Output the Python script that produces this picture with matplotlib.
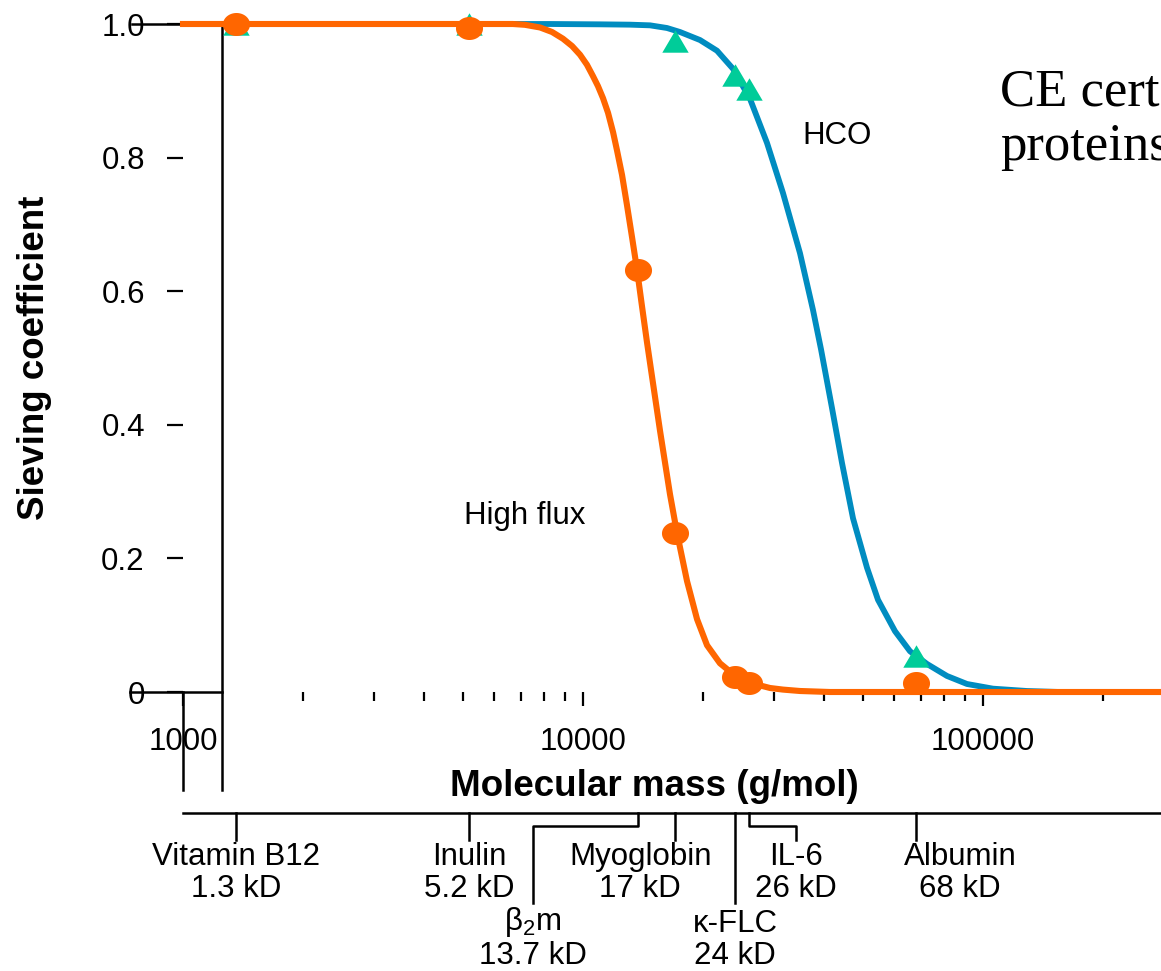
import numpy as np
import matplotlib.pyplot as plt
from matplotlib.path import Path
from matplotlib.ticker import LogLocator, NullFormatter
from matplotlib.transforms import blended_transform_factory, offset_copy

plt.rcParams['font.family'] = ['Liberation Sans', 'DejaVu Sans']
plt.rcParams['mathtext.fontset'] = 'custom'
plt.rcParams['mathtext.rm'] = 'Liberation Sans'

# solutes and measured sieving coefficients
proteins = ['Vitamin B12', 'Inulin', 'β$_2$m', 'Myoglobin', 'κ-FLC', 'IL-6', 'Albumin']
sizes = ['1.3 kD', '5.2 kD', '13.7 kD', '17 kD', '24 kD', '26 kD', '68 kD']
masses = [1355, 5200, 13700, 17000, 24000, 26000, 68000]
sc_highflux = [1.0, 0.994, 0.632, 0.238, 0.022, 0.013, 0.013]
hco_masses = [1355, 5200, 17000, 24000, 26000, 68000]
sc_hco = [1.0, 1.0, 0.975, 0.923, 0.903, 0.054]

# fitted curves
hf_curve_x = [1000, 6680, 7160, 7810, 8370, 8910, 9390, 9830, 10230, 10590, 10900,
              11220, 11550, 11890, 12160, 12520, 12880, 13260, 13650, 14040, 14450,
              14880, 15580, 16500, 17180, 18200, 19280, 20420, 22000, 23710, 25410,
              27230, 29340, 31620, 34870, 41450, 280000]
hf_curve_y = [1.0, 1.0, 0.9988, 0.9948, 0.988, 0.978, 0.967, 0.954, 0.939, 0.922, 0.907,
              0.889, 0.867, 0.838, 0.811, 0.774, 0.729, 0.681, 0.632, 0.578, 0.524,
              0.472, 0.391, 0.296, 0.238, 0.166, 0.109, 0.070, 0.043, 0.027, 0.018,
              0.011, 0.006, 0.0036, 0.0015, 0.0, 0.0]
hco_curve_x = [1000, 8270, 11030, 13110, 14710, 16220, 17480, 19610, 21630, 23710, 26150,
               28840, 31620, 34870, 37580, 39360, 41930, 44410, 47320, 51290, 54640,
               60260, 65690, 72440, 81280, 91200, 105900, 128800, 155800, 280000]
hco_curve_y = [1.0, 1.0, 0.9995, 0.999, 0.998, 0.994, 0.988, 0.976, 0.960, 0.933, 0.888,
               0.822, 0.747, 0.657, 0.572, 0.513, 0.425, 0.343, 0.260, 0.186, 0.138,
               0.091, 0.061, 0.042, 0.024, 0.012, 0.005, 0.0015, 0.0, 0.0]

orange = '#FF6600'
blue = '#008CC0'
green = '#00CC99'

W, H = 1161, 971
fig = plt.figure(figsize=(W / 100, H / 100), dpi=100)
ax = fig.add_axes([183 / W, (H - 692) / H, 978 / W, 668 / H])
ax.set_xscale('log')
ax.set_xlim(1000, 10 ** (3 + 978 / 400))
ax.set_ylim(0, 1)
for s in ax.spines.values():
    s.set_visible(False)

# marker shapes: flattened ellipse and flattened triangle
t = np.linspace(0, 2 * np.pi, 60)
ellipse = Path(np.column_stack([np.cos(t), 0.85 * np.sin(t)]))
triangle = Path([(0, 0.85), (-1, -0.85), (1, -0.85), (0, 0.85)])

ax.plot(hco_curve_x, hco_curve_y, color=blue, lw=4.2, clip_on=False, zorder=3,
        solid_joinstyle='round')
ax.plot(hco_masses, sc_hco, ls='none', marker=triangle, ms=19, color=green,
        mec='none', clip_on=False, zorder=4)
ax.plot(hf_curve_x, hf_curve_y, color=orange, lw=4.4, clip_on=False, zorder=5,
        solid_joinstyle='round')
ax.plot(masses, sc_highflux, ls='none', marker=ellipse, ms=19.5, color=orange,
        mec='none', clip_on=False, zorder=6)

ax.text(5040, 0.263, 'High flux', fontsize=22.5, va='center')
ax.text(35280, 0.832, 'HCO', fontsize=22.5, va='center')

# axes ticks
ax.set_xticks([1000, 10000, 100000])
ax.set_xticklabels(['1000', '10000', '100000'])
ax.xaxis.set_minor_locator(LogLocator(base=10, subs=range(2, 10)))
ax.xaxis.set_minor_formatter(NullFormatter())
ax.tick_params(axis='x', which='major', direction='out', length=10, width=1.6,
               pad=15, labelsize=22.5)
ax.tick_params(axis='x', which='minor', direction='out', length=6.5, width=1.6)
ax.set_yticks([0, 0.2, 0.4, 0.6, 0.8, 1.0])
ax.set_yticklabels(['0', '0.2', '0.4', '0.6', '0.8', '1.0'])
ax.tick_params(axis='y', direction='out', length=11.5, width=1.6, pad=16, labelsize=22.5)

# black frame pieces around the origin
kw = dict(transform=ax.transAxes, color='k', lw=1.8, clip_on=False, zorder=1)
ax.plot([-0.052, 0], [1, 1], **kw)
ax.plot([-0.054, 0.04], [0, 0], **kw)
ax.plot([0.04, 0.04], [1, -0.147], **kw)
ax.plot([0, 0], [0, -0.147], **kw)

fig.text(654 / W, 1 - 786 / H, 'Molecular mass (g/mol)', fontsize=26.5,
         fontweight='bold', ha='center', va='center')
fig.text(35 / W, 1 - 358 / H, 'Sieving coefficient', fontsize=26.5,
         fontweight='bold', rotation=90, ha='center', va='center')

# solute scale under the axis
trans = blended_transform_factory(ax.transData, ax.transAxes)
y_line, y_short, y_elbow, y_long = -0.181, -0.222, -0.201, -0.316
row_y = [-0.3069, -0.4072]
elbows = [None, None, 7500, None, None, 34100, None]
ends = ['short', 'short', 'long', 'short', 'long', 'short', 'short']
rows = [0, 0, 1, 0, 1, 0, 0]
label_dx = [0, 0, 0, -35, 0, 0, 44]

ax.plot([0, 1], [y_line, y_line], **kw)
lkw = dict(transform=trans, color='k', lw=1.8, clip_on=False)
for m, name, sz, el, end, row, dx in zip(masses, proteins, sizes, elbows, ends, rows, label_dx):
    y_end = y_short if end == 'short' else y_long
    if el is None:
        ax.plot([m, m], [y_line, y_end], **lkw)
        lx = m
    else:
        ax.plot([m, m, el, el], [y_line, y_elbow, y_elbow, y_end], **lkw)
        lx = el
    ax.text(lx, row_y[row], name + '\n' + sz, fontsize=22.5, ha='center', va='baseline',
            linespacing=1.07, multialignment='center',
            transform=offset_copy(trans, fig=fig, x=dx, y=0, units='dots'))

fig.text(1000 / W, 1 - 106 / H, 'CE cert', family='Liberation Serif',
         fontsize=38, va='baseline')
fig.text(1000 / W, 1 - 160 / H, 'proteins', family='Liberation Serif',
         fontsize=38, va='baseline')

fig.savefig('out.png', dpi=100)
